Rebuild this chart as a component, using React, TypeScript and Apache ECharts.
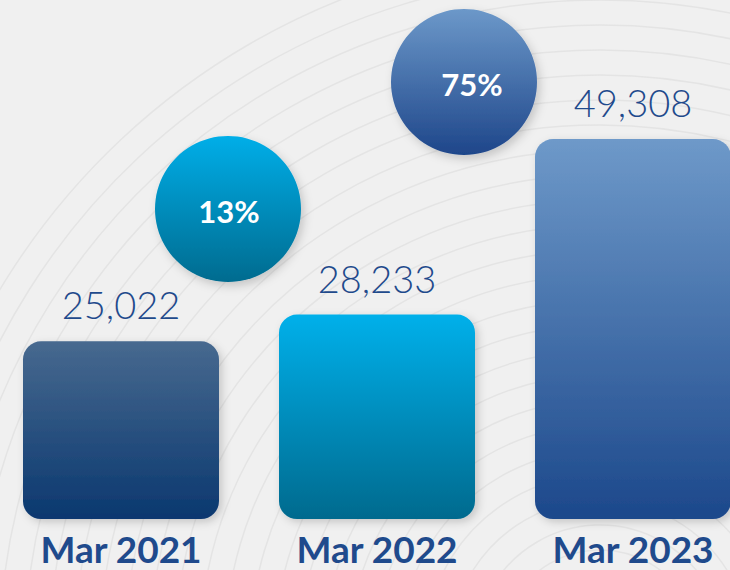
import React, { useEffect, useRef } from "react";
import * as echarts from "echarts";

const categories = ["Mar 2021", "Mar 2022", "Mar 2023"];
const values = [25022, 28233, 49308];
const growthLabels = ["13%", "75%"];

const barGradients = [
  ["#47698f", "#0b386f"],
  ["#00b0ea", "#006a8e"],
  ["#6e99c9", "#1c488b"],
];
const badgeGradients = [
  ["#00aee8", "#006b8f"],
  ["#6c98c9", "#1e468a"],
];
const badgeCenters = [
  [228, 209],
  [464, 82],
];

const DARK = "#1f4a8c";
const FONT = "Lato, 'Open Sans', sans-serif";

function grad(c: string[]) {
  return new echarts.graphic.LinearGradient(0, 0, 0, 1, [
    { offset: 0, color: c[0] },
    { offset: 1, color: c[1] },
  ]);
}

export default function App() {
  const ref = useRef<HTMLDivElement>(null);
  useEffect(() => {
    if (!ref.current) return;
    const chart = echarts.init(ref.current, null, { renderer: "svg" });

    const rings: any[] = [];
    for (let r = 100; r <= 700; r += 25) {
      rings.push({
        type: "circle",
        shape: { cx: 600, cy: 650, r },
        style: { fill: "none", stroke: "#e4e4e4", lineWidth: 1.5 },
        z: 0,
        silent: true,
      });
    }

    const badges = growthLabels.map((t, i) => ({
      type: "group",
      x: badgeCenters[i][0],
      y: badgeCenters[i][1],
      z: 100,
      children: [
        {
          type: "circle",
          shape: { cx: 0, cy: 0, r: 73 },
          style: {
            fill: grad(badgeGradients[i]),
            shadowBlur: 10,
            shadowOffsetX: 3,
            shadowOffsetY: 4,
            shadowColor: "rgba(0,0,0,0.18)",
          },
          z: 100,
        },
        {
          type: "text",
          x: i === 1 ? 8 : 1,
          y: 2,
          style: {
            text: t,
            fill: "#ffffff",
            fontSize: 31,
            fontWeight: "bold",
            fontFamily: FONT,
            align: "center",
            verticalAlign: "middle",
            textAlign: "center",
            textVerticalAlign: "middle",
          },
          z: 101,
        },
      ],
    }));

    chart.setOption({
      animation: false,
      backgroundColor: "#f0f0f0",
      grid: {
        left: -7,
        width: 768,
        top: 0,
        bottom: 51,
        containLabel: false,
        outerBoundsMode: "none",
      },
      xAxis: {
        type: "category",
        data: categories,
        axisLine: { show: false },
        axisTick: { show: false },
        axisLabel: {
          color: DARK,
          fontSize: 37,
          lineHeight: 38,
          fontWeight: "bold",
          fontFamily: FONT,
          margin: 10,
        },
      },
      yAxis: {
        type: "value",
        min: 3700,
        max: 66000,
        show: false,
        splitLine: { show: false },
      },
      graphic: [...rings, ...badges],
      series: [
        {
          type: "bar",
          barWidth: 196,
          z: 5,
          data: values.map((v, i) => ({
            value: v,
            itemStyle: {
              color: grad(barGradients[i]),
              borderRadius: 18,
              shadowBlur: 8,
              shadowOffsetX: 3,
              shadowOffsetY: 3,
              shadowColor: "rgba(0,0,0,0.18)",
            },
          })),
          label: {
            show: true,
            position: "top",
            distance: 18,
            color: DARK,
            fontSize: 38,
            fontWeight: 300,
            fontFamily: FONT,
            formatter: (p: any) => Number(p.value).toLocaleString("en-US"),
          },
        },
      ],
    });
    return () => chart.dispose();
  }, []);
  return (
    <div
      ref={ref}
      style={{ position: "fixed", left: 0, top: 0, width: 730, height: 570 }}
    />
  );
}
